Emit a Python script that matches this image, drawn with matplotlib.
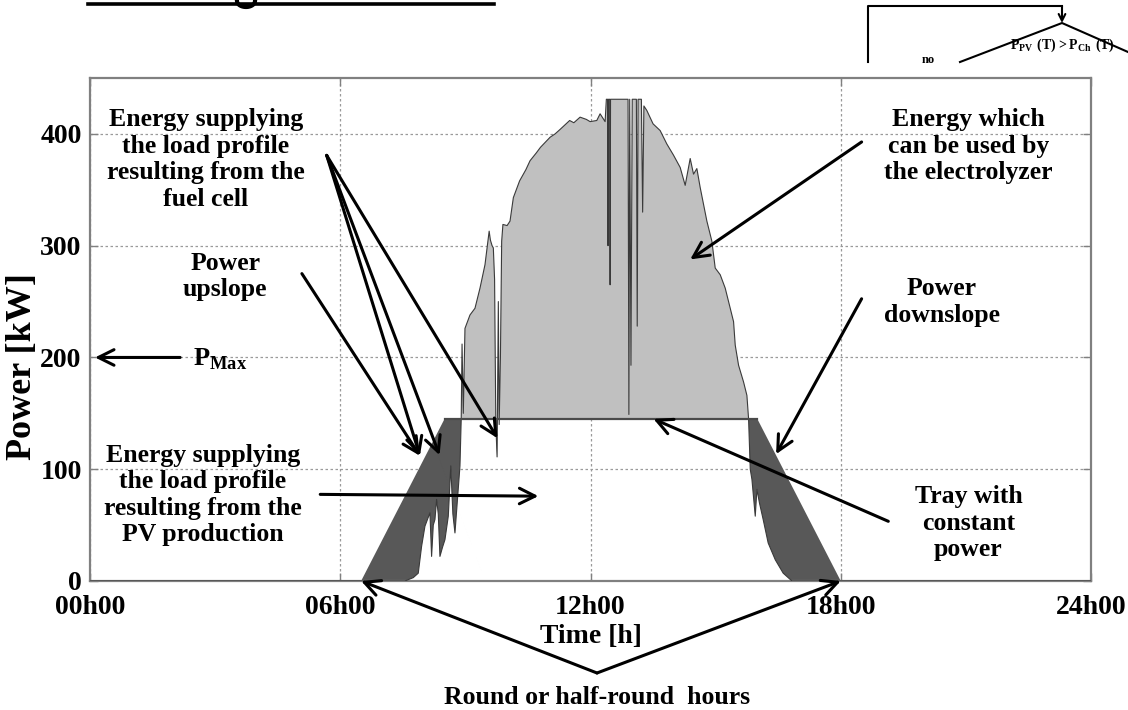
import matplotlib
matplotlib.use("Agg")
import matplotlib.pyplot as plt
import numpy as np

# fonts: bold serif everywhere
plt.rcParams['font.family'] = ['Liberation Serif', 'DejaVu Serif']
plt.rcParams['font.weight'] = 'bold'
plt.rcParams['axes.labelweight'] = 'bold'
plt.rcParams['mathtext.fontset'] = 'custom'
plt.rcParams['mathtext.rm'] = 'Liberation Serif:bold'
plt.rcParams['mathtext.bf'] = 'Liberation Serif:bold'

# load profile (kW) - ramp up, constant tray, ramp down
load_hours = [0, 6.5, 8.5, 16.0, 18.0, 24]
load_kw = [0, 0, 145, 145, 0, 0]

# PV production (h, kW)
pv_hours = [0, 7.55, 7.75, 7.87, 7.95, 8.03, 8.15, 8.19, 8.23, 8.27, 8.31, 8.35,
            8.39, 8.45, 8.51, 8.59, 8.65, 8.70, 8.75, 8.81, 8.87, 8.90, 8.92,
            8.95, 8.99, 9.05, 9.11, 9.23, 9.35, 9.47, 9.57, 9.60, 9.64, 9.67,
            9.70, 9.73, 9.76, 9.79, 9.81, 9.84, 9.87, 9.90, 10.0, 10.07, 10.15,
            10.3, 10.45, 10.55, 10.7, 10.8, 11.03, 11.15, 11.27, 11.5, 11.6,
            11.75, 11.9, 11.99, 12.15, 12.23, 12.35, 12.38, 12.41, 12.42, 12.43,
            12.46, 12.47, 12.48, 12.60, 12.88, 12.90, 12.92, 12.94, 12.97, 13.00,
            13.10, 13.12, 13.14, 13.22, 13.25, 13.28, 13.35, 13.5, 13.67, 13.83,
            13.99, 14.15, 14.27, 14.39, 14.47, 14.55, 14.63, 14.79, 14.91, 14.99,
            15.11, 15.23, 15.35, 15.43, 15.47, 15.55, 15.67, 15.75, 15.79, 15.83,
            15.87, 15.95, 15.99, 16.05, 16.14, 16.26, 16.43, 16.62, 16.83, 24]
pv_kw = [0, 0, 3, 7, 31, 49, 61, 22, 50, 55, 73, 60,
         22, 30, 37, 58, 103, 60, 43, 73, 103, 145, 212,
         150, 226, 232, 238, 244, 262, 283, 313, 305, 300, 298,
         270, 140, 111, 250, 140, 200, 304, 319, 318, 322, 343,
         358, 368, 376, 383, 388, 397, 400, 404, 412, 410,
         415, 413, 411, 412, 418, 411, 431, 431, 300, 431,
         431, 265, 431, 431, 431, 431, 149, 431, 193, 431,
         431, 228, 431, 431, 330, 425, 421, 409, 403, 391,
         381, 370, 354, 378, 364, 369, 352, 322, 304, 280,
         274, 262, 244, 232, 211, 193, 178, 166, 145, 100,
         91, 58, 82, 70, 55, 34, 19, 7, 0, 0]

x_ticks = [0, 6, 12, 18, 24]
x_labels = ['00h00', '06h00', '12h00', '18h00', '24h00']
y_ticks = [0, 100, 200, 300, 400]

fig = plt.figure(figsize=(11.28, 7.10), dpi=100)
ax = fig.add_axes([0.0798, 0.1817, 0.8874, 0.7084])

# common grid for the two fills
t = np.union1d(pv_hours, load_hours)
pv = np.interp(t, pv_hours, pv_kw)
ld = np.interp(t, load_hours, load_kw)

ax.fill_between(t, ld, pv, where=pv >= ld, interpolate=True,
                color='#c0c0c0', lw=0, zorder=2)
ax.fill_between(t, ld, pv, where=pv < ld, interpolate=True,
                color='#585858', lw=0, zorder=2)
ax.plot(pv_hours, pv_kw, color='#3a3a3a', lw=0.8, zorder=3)
ax.plot(load_hours[2:4], load_kw[2:4], color='#4a4a4a', lw=1.6, zorder=4)

ax.set_xlim(0, 24)
ax.set_ylim(0, 450)
ax.set_xticks(x_ticks)
ax.set_xticklabels(x_labels)
ax.set_yticks(y_ticks)
ax.tick_params(direction='in', length=6, width=1, color='#808080',
               labelsize=20, pad=6, top=True, right=True)
ax.tick_params(axis='x', pad=10)
ax.grid(True, linestyle=(0, (2, 2)), color='#9a9a9a', lw=0.9, zorder=1)
for s in ax.spines.values():
    s.set_color('#808080')
    s.set_linewidth(1.6)
ax.set_xlabel('Time [h]', fontsize=20, labelpad=3)
ax.set_ylabel('Power [kW]', fontsize=26)
ax.yaxis.set_label_coords(-0.051, 0.427)

arrow = dict(arrowstyle='->', lw=2.2, color='k', mutation_scale=28,
             shrinkA=0, shrinkB=0)
txt = dict(ha='center', va='center', fontsize=18.5, linespacing=1.2, zorder=6)

# fuel cell label and arrows
ax.text(2.78, 377, 'Energy supplying\nthe load profile\nresulting from the\nfuel cell', **txt)
for end in [(7.91, 112), (8.38, 112.6), (9.77, 127.7)]:
    ax.annotate('', xy=end, xytext=(5.675, 380.8), arrowprops=arrow, zorder=5)

# upslope
ax.text(3.24, 272.6, 'Power\nupslope', **txt)
ax.annotate('', xy=(7.91, 112), xytext=(5.08, 275), arrowprops=arrow, zorder=5)

# P max
ax.annotate('', xy=(0.12, 200), xytext=(2.16, 200), arrowprops=arrow, zorder=5)
ax.text(2.47, 198, r'$\mathbf{P}_{\mathbf{Max}}$', fontsize=19, va='center', ha='left')

# PV production
ax.text(2.71, 77, 'Energy supplying\nthe load profile\nresulting from the\nPV production', **txt)
ax.annotate('', xy=(10.75, 75.9), xytext=(5.52, 77.5), arrowprops=arrow, zorder=5)

# electrolyzer
ax.text(21.06, 389, 'Energy which\ncan be used by\nthe electrolyzer', **txt)
ax.annotate('', xy=(14.39, 287.7), xytext=(18.5, 392.8), arrowprops=arrow, zorder=5)

# downslope
ax.text(20.42, 249.8, 'Power\ndownslope', **txt)
ax.annotate('', xy=(16.45, 113.5), xytext=(18.5, 252.5), arrowprops=arrow, zorder=5)

# tray
ax.text(21.06, 51.8, 'Tray with\nconstant\npower', **txt)
ax.annotate('', xy=(13.51, 145), xytext=(19.14, 53.4), arrowprops=arrow, zorder=5)

# round hours (arrows leave the axes)
for end in [(6.5, 0), (18.0, 0)]:
    ax.annotate('', xy=end, xycoords='data', xytext=(597, 710 - 673),
                textcoords='figure pixels', arrowprops=arrow,
                annotation_clip=False, zorder=5)
fig.text(597 / 1128, 1 - 697 / 710, 'Round or half-round  hours',
         ha='center', va='center', fontsize=18.5)

# cropped pieces of the page around the chart
fig.add_artist(plt.Line2D([88 / 1128, 494 / 1128], [1 - 3.5 / 710, 1 - 3.5 / 710],
                          color='k', lw=2.6))
# bottom of a letter from the cut-off heading
a = np.linspace(np.pi, 2 * np.pi, 20)
fig.add_artist(plt.Line2D((246 + 9 * np.cos(a)) / 1128, 1 - (1 - 6 * np.sin(a)) / 710,
                          color='k', lw=3))
fig.add_artist(plt.Line2D([868 / 1128, 868 / 1128, 1062 / 1128],
                          [1 - 62 / 710, 1 - 6 / 710, 1 - 6 / 710],
                          color='k', lw=1.5))
fig.add_artist(plt.Line2D([960 / 1128, 1062 / 1128, 1128 / 1128],
                          [1 - 62 / 710, 1 - 23 / 710, 1 - 52 / 710],
                          color='k', lw=1.5))
ax.annotate('', xy=(1062, 710 - 23), xycoords='figure pixels',
            xytext=(1062, 710 - 6), textcoords='figure pixels',
            arrowprops=dict(arrowstyle='->', lw=1.5, color='k',
                            mutation_scale=12, shrinkA=0, shrinkB=0),
            annotation_clip=False)
fig.text(928 / 1128, 1 - 60 / 710, 'no', fontsize=9, ha='center', va='center')
fig.text(1062 / 1128, 1 - 45 / 710, r'$\mathrm{P_{PV}\ (T) > P_{Ch}\ (T)}$',
         fontsize=10, ha='center', va='center')

fig.savefig('out.png', dpi=100)
